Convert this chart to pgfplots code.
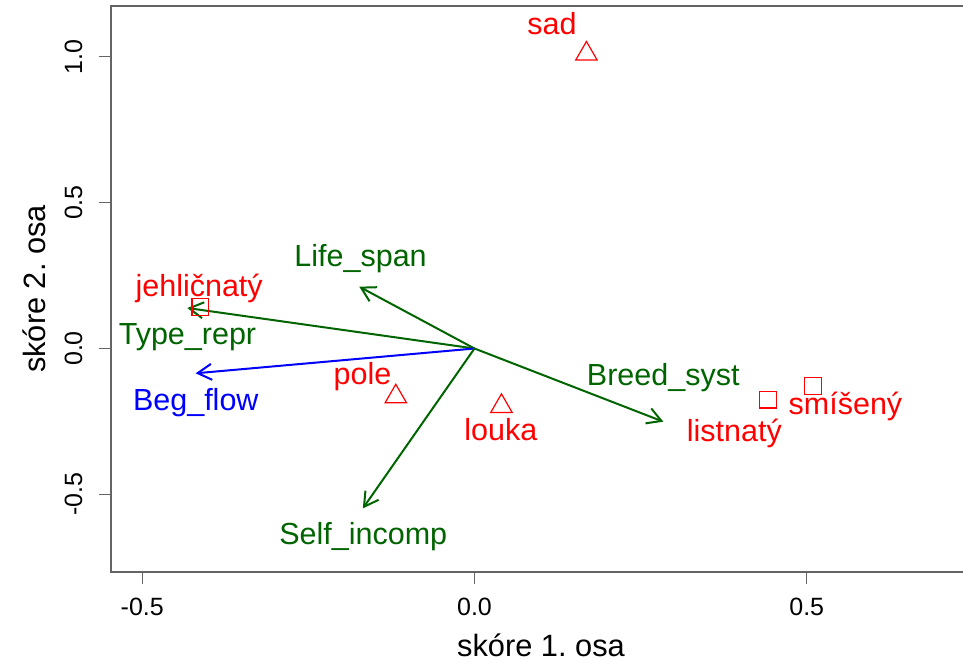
\documentclass[border=0pt]{standalone}
\usepackage{fontspec}
\setmainfont{Liberation Sans}
\usepackage{pgfplots}
\usepackage{pgfplotstable}
\pgfplotsset{compat=1.18}
\usetikzlibrary{arrows.meta}
\definecolor{rred}{RGB}{255,0,0}
\definecolor{rgreen}{RGB}{0,100,0}
\definecolor{rblue}{RGB}{0,0,255}
\definecolor{axgray}{RGB}{100,100,100}
\frenchspacing

\pgfplotstableread{
x y
0.1685 1.0096
-0.1184 -0.1650
0.0406 -0.1980
}\triangles
\pgfplotstableread{
x y
-0.4126 0.1415
0.4421 -0.1753
0.5090 -0.1292
}\squares
\pgfplotstableread{
x y label
0.1166 1.0744 sad
-0.4143 0.1775 jehličnatý
-0.1685 -0.1217 pole
0.0396 -0.3136 louka
0.3910 -0.3194 listnatý
0.5583 -0.2245 smíšený
}\redlabels
\pgfplotstableread{
x y label
-0.1714 0.2803 Life\_span
-0.4319 0.0144 Type\_repr
0.2841 -0.1285 Breed\_syst
-0.1673 -0.6700 Self\_incomp
}\greenlabels
\pgfplotstableread{
x y label
-0.4194 -0.2108 Beg\_flow
}\bluelabels

\begin{document}
\begin{tikzpicture}
\useasboundingbox (-55.5pt,-48.75pt) rectangle (426pt,285.75pt);
\begin{axis}[
  at={(0,0)}, anchor=south west,
  scale only axis, width=430pt, height=282.5pt,
  xmin=-0.5470, xmax=0.7472, ymin=-0.7642, ymax=1.1720,
  axis line style={draw=axgray, line width=1pt},
  tick pos=left, tick align=outside, major tick length=6pt,
  tick style={draw=axgray, line width=0.6pt},
  xtick={-0.5,0,0.5}, xticklabels={-0.5,0.0,0.5},
  ytick={-0.5,0,0.5,1}, yticklabels={-0.5,0.0,0.5,1.0},
  ticklabel style={font=\fontsize{12.5}{15}\selectfont},
  xticklabel style={anchor=base, yshift=-15.75pt},
  yticklabel style={rotate=90, anchor=base, yshift=8.5pt},
  xlabel={skóre 1. osa}, ylabel={skóre 2. osa},
  every axis x label/.style={at={(axis description cs:0.5,-0.1513)}, anchor=base, font=\fontsize{15.4}{18}\selectfont},
  every axis y label/.style={at={(axis description cs:-0.0756,0.5)}, rotate=90, anchor=base, font=\fontsize{15.4}{18}\selectfont},
  every node near coord/.append style={anchor=base, font=\fontsize{15.25}{18}\selectfont},
  clip=false,
]
\addplot[only marks, mark=triangle, mark size=6.2pt, mark options={draw=rred, line width=0.6pt, fill=none}] table[x=x,y=y] {\triangles};
\addplot[only marks, mark=square, mark size=4.2pt, mark options={draw=rred, line width=0.6pt, fill=none}] table[x=x,y=y] {\squares};

\addplot[rgreen, line width=1pt, -{Straight Barb[length=7pt,width=8pt,line width=1pt]}] coordinates {(0,0) (-0.1734,0.2118)};
\addplot[rgreen, line width=1pt, -{Straight Barb[length=7pt,width=8pt,line width=1pt]}] coordinates {(0,0) (-0.4322,0.1388)};
\addplot[rblue, line width=1pt, -{Straight Barb[length=7pt,width=8pt,line width=1pt]}] coordinates {(0,0) (-0.4196,-0.0850)};
\addplot[rgreen, line width=1pt, -{Straight Barb[length=7pt,width=8pt,line width=1pt]}] coordinates {(0,0) (0.2842,-0.2508)};
\addplot[rgreen, line width=1pt, -{Straight Barb[length=7pt,width=8pt,line width=1pt]}] coordinates {(0,0) (-0.1680,-0.5480)};

\addplot[only marks, mark=none, nodes near coords, point meta=explicit symbolic,
  every node near coord/.append style={text=rred}] table[x=x,y=y,meta=label] {\redlabels};
\addplot[only marks, mark=none, nodes near coords, point meta=explicit symbolic,
  every node near coord/.append style={text=rgreen}] table[x=x,y=y,meta=label] {\greenlabels};
\addplot[only marks, mark=none, nodes near coords, point meta=explicit symbolic,
  every node near coord/.append style={text=rblue}] table[x=x,y=y,meta=label] {\bluelabels};
\end{axis}
\end{tikzpicture}
\end{document}
